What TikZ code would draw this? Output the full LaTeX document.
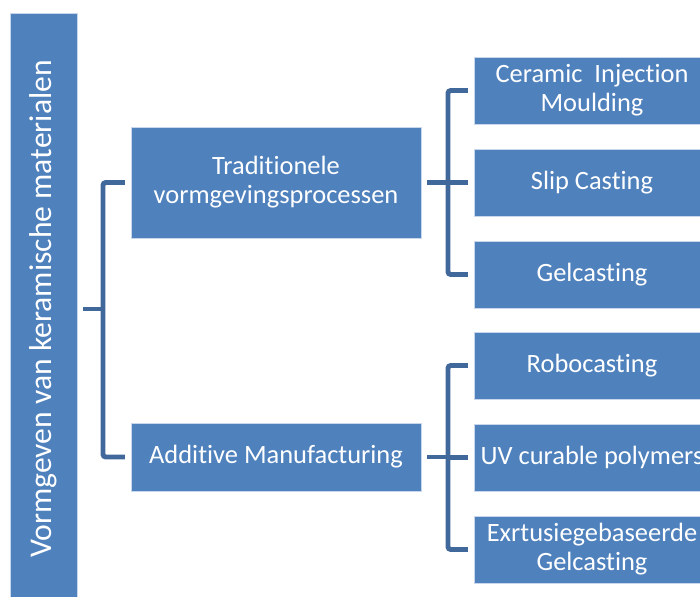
\documentclass[tikz,border=0pt]{standalone}
\usepackage{fontspec}
\setmainfont{Carlito}[Ligatures=NoCommon]
\usepackage{tikz}
\usetikzlibrary{positioning}
\definecolor{mbox}{RGB}{79, 129, 189}
\definecolor{mline}{RGB}{65, 104, 154}
\definecolor{medge}{RGB}{200, 215, 235}

\begin{document}
\begin{tikzpicture}[x=0.025cm, y=-0.025cm,
    box/.style={draw=medge, line width=0.6pt, fill=mbox, text=white, align=center, inner sep=0pt, outer xsep=0.15cm, font=\fontsize{18.8}{20.6}\selectfont},
    leaf/.style={box, minimum width=5.9cm, minimum height=1.675cm},
    conn/.style={mline, line width=3.5pt, rounded corners=2pt}]
          \useasboundingbox (0, 0) rectangle (700, 597);

          \node [box, minimum width=1.675cm, minimum height=14.75cm] (root) at (43.5, 309) {};
          \node [rotate=90, text=white, font=\fontsize{22.5}{27}\selectfont] (rootlabel) at (root.center) {Vormgeven van keramische materialen};

          \node [box, minimum width=7.25cm, minimum height=2.775cm] (trad) at (276, 182.5) {Traditionele\\vormgevingsprocessen};
          \node [box, minimum width=7.25cm, minimum height=1.7cm] (add) at (276, 457) {Additive Manufacturing};

          \node [leaf] (cim) at (592, 90.5) {Ceramic\ \ Injection\\Moulding};
          \node [leaf] (slip) at (592, 182.5) {Slip Casting};
          \node [leaf] (gel) at (592, 274.5) {Gelcasting};
          \node [leaf] (robo) at (592, 365.5) {Robocasting};
          \node [leaf] (uv) at (592, 457.5) {UV curable polymers};
          \node [leaf] (extr) at (592, 549.5) {Exrtusiegebaseerde\\Gelcasting};

          \draw [conn] (root.east) -- ++(20, 0);
          \draw [conn] (trad.west) -- ++(-22, 0) |- (add.west);

          \draw [conn] (trad.east) -- ++(21, 0);
          \draw [conn] (cim.west) -- ++(-20, 0) |- (gel.west);
          \draw [conn] (slip.west) -- ++(-20, 0);

          \draw [conn] (add.east) -- ++(21, 0);
          \draw [conn] (robo.west) -- ++(-20, 0) |- (extr.west);
          \draw [conn] (uv.west) -- ++(-20, 0);
        \end{tikzpicture}
\end{document}
